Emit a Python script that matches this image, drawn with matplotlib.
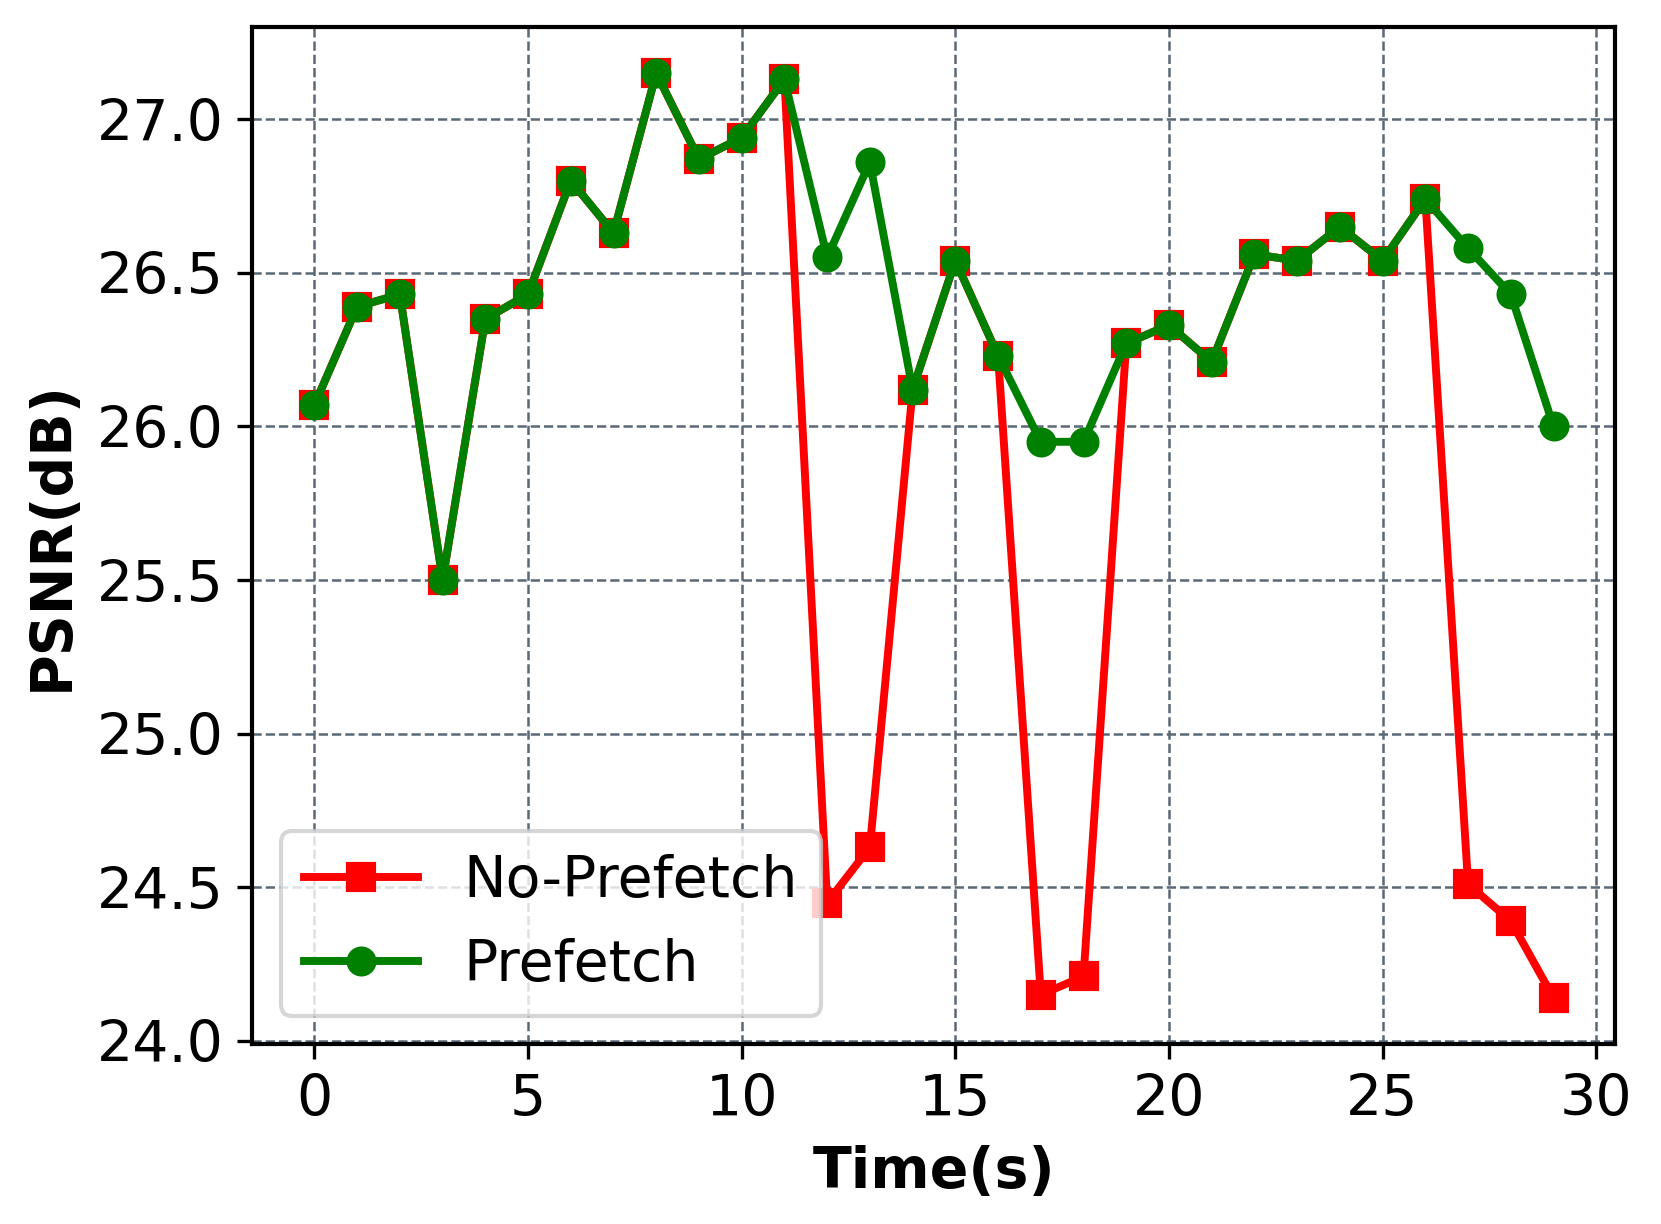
import numpy as np
import matplotlib
matplotlib.use('Agg')
import matplotlib.pyplot as plt

# PSNR per second
time_s = np.arange(30)
prefetch = [26.07, 26.39, 26.43, 25.50, 26.35, 26.43, 26.80, 26.63, 27.15, 26.87,
            26.94, 27.13, 26.55, 26.86, 26.12, 26.54, 26.23, 25.95, 25.95, 26.27,
            26.33, 26.21, 26.56, 26.54, 26.65, 26.54, 26.74, 26.58, 26.43, 26.00]
no_prefetch = [26.07, 26.39, 26.43, 25.50, 26.35, 26.43, 26.80, 26.63, 27.15, 26.87,
               26.94, 27.13, 24.45, 24.63, 26.12, 26.54, 26.23, 24.15, 24.21, 26.27,
               26.33, 26.21, 26.56, 26.54, 26.65, 26.54, 26.74, 24.51, 24.39, 24.14]

fs = 13.7
fig = plt.figure(figsize=(1661/300., 1224/300.), dpi=300)
ax = fig.add_subplot(111)
fig.subplots_adjust(left=0.152, right=0.9726, top=0.978, bottom=0.147)

ax.plot(time_s, no_prefetch, 's-', color='red', lw=1.9, ms=6.2, label='No-Prefetch')
ax.plot(time_s, prefetch, 'o-', color='green', lw=1.9, ms=6.2, label='Prefetch')

ax.grid(True, linestyle='--', color='#5b6875', linewidth=0.6)
ax.set_axisbelow(True)
ax.set_xlabel('Time(s)', fontsize=fs, fontweight='bold')
ax.set_ylabel('PSNR(dB)', fontsize=fs, fontweight='bold')
ax.tick_params(labelsize=fs)
for s in ax.spines.values():
    s.set_linewidth(1.0)
ax.legend(loc='lower left', fontsize=fs)

plt.savefig('out.png', dpi=300)
